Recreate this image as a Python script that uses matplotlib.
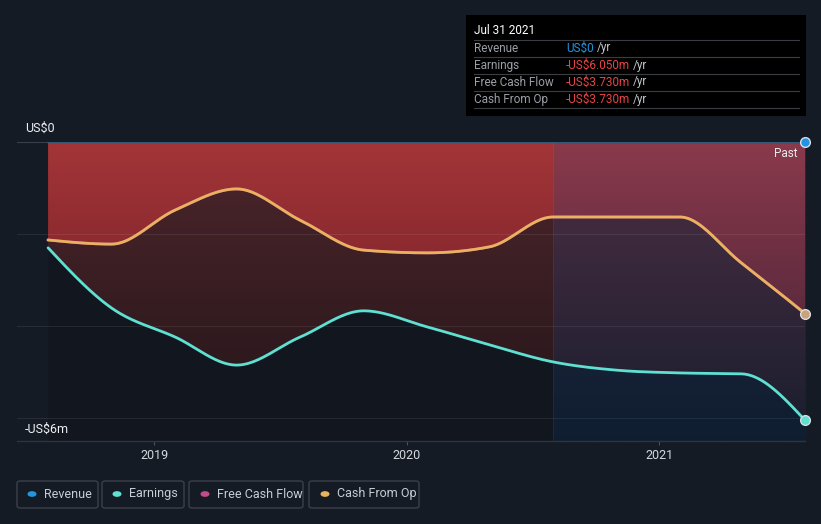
import numpy as np
import pandas as pd
import matplotlib
matplotlib.use("Agg")
import matplotlib.pyplot as plt
import matplotlib.dates as mdates
from matplotlib.patches import Rectangle, FancyBboxPatch, Circle
from matplotlib.lines import Line2D

plt.rcParams["font.family"] = ["Roboto", "DejaVu Sans"]

# quarterly figures, US$ millions
dates = ["2018-07-31", "2018-10-31", "2019-01-31", "2019-04-30", "2019-07-31",
         "2019-10-31", "2020-01-31", "2020-04-30", "2020-07-31", "2020-10-31",
         "2021-01-31", "2021-04-30", "2021-07-31"]
revenue = [0, 0, 0, 0, 0, 0, 0, 0, 0, 0, 0, 0, 0]
earnings = [-2.30, -3.61, -4.24, -4.85, -4.24, -3.67, -4.02, -4.41, -4.78,
            -4.96, -5.02, -5.04, -6.05]
free_cash_flow = [-2.13, -2.22, -1.48, -1.02, -1.70, -2.35, -2.41, -2.28, -1.63,
                  -1.63, -1.63, -2.63, -3.73]
cash_from_op = [-2.13, -2.22, -1.48, -1.02, -1.70, -2.35, -2.41, -2.28, -1.63,
                -1.63, -1.63, -2.63, -3.73]
past_start = "2020-07-31"
year_ticks = ["2019-01-01", "2020-01-01", "2021-01-01"]
year_labels = ["2019", "2020", "2021"]
y_labels = {0: "US$0", -6: "-US$6m"}

tip_title = "Jul 31 2021"
tip_rows = ["Revenue", "Earnings", "Free Cash Flow", "Cash From Op"]
tip_values = ["US$0", "-US$6.050m", "-US$3.730m", "-US$3.730m"]
legend_names = ["Revenue", "Earnings", "Free Cash Flow", "Cash From Op"]

BG = "#151b25"
C_REV = "#2394df"
C_EARN = "#5ee0d2"
C_FCF = "#c44b8a"
C_CFO = "#e9b25f"
RED = "#e64545"


def monotone(x, y, n=40):
    """d3 style monotone cubic, for drawing only"""
    x = np.asarray(x, float)
    y = np.asarray(y, float)
    h = np.diff(x)
    d = np.diff(y) / h
    m = np.zeros_like(y)
    s0, s1, h0, h1 = d[:-1], d[1:], h[:-1], h[1:]
    p = (s0 * h1 + s1 * h0) / (h0 + h1)
    m[1:-1] = (np.sign(s0) + np.sign(s1)) * np.minimum(np.minimum(abs(s0), abs(s1)), 0.5 * abs(p))
    m[0] = (3 * d[0] - m[1]) / 2
    m[-1] = (3 * d[-1] - m[-2]) / 2
    xs, ys = [], []
    for i in range(len(h)):
        t = np.linspace(0, 1, n, endpoint=(i == len(h) - 1))
        h00 = 2 * t**3 - 3 * t**2 + 1
        h10 = t**3 - 2 * t**2 + t
        h01 = -2 * t**3 + 3 * t**2
        h11 = t**3 - t**2
        xs.append(x[i] + t * h[i])
        ys.append(h00 * y[i] + h10 * h[i] * m[i] + h01 * y[i + 1] + h11 * h[i] * m[i + 1])
    return np.concatenate(xs), np.concatenate(ys)


def grad_fill(ax, x, lo, hi, top, bot, y_top, y_bot, z):
    poly = ax.fill_between(x, lo, hi, facecolor="none", edgecolor="none")
    top = np.array(top, float)
    bot = np.array(bot, float)
    t = np.linspace(0, 1, 256)[:, None]
    arr = (top[None, :] * (1 - t) + bot[None, :] * t)[:, None, :]
    im = ax.imshow(arr, extent=[x[0], x[-1], y_bot, y_top], aspect="auto",
                   origin="upper", zorder=z, interpolation="bilinear")
    im.set_clip_path(poly.get_paths()[0], transform=ax.transData)
    return im


W, H = 821, 524
fig = plt.figure(figsize=(W / 100, H / 100), dpi=100, facecolor=BG)
ax = fig.add_axes([17 / W, (H - 441) / H, (805 - 17) / W, (441 - 142) / H])
ax.set_facecolor(BG)

xd = mdates.date2num(pd.to_datetime(dates))
xp = mdates.date2num(pd.to_datetime(past_start))
sx, s_earn = monotone(xd, earnings)
_, s_fcf = monotone(xd, free_cash_flow)
_, s_cfo = monotone(xd, cash_from_op)
_, s_rev = monotone(xd, revenue)

ymin, ymax = -6.5, 0
# dark band under earnings
ax.fill_between(sx, ymin, s_earn, color="#12161e", lw=0, zorder=1)
# earnings area
grad_fill(ax, sx, s_earn, s_rev, (77/255, 38/255, 44/255, 1), (38/255, 22/255, 26/255, 1), 0, -6, 1.1)
# cash from op area
grad_fill(ax, sx, s_cfo, s_rev, (163/255, 53/255, 56/255, 1), (123/255, 35/255, 42/255, 1), 0, -4, 1.2)

# past year overlay
t = np.linspace(0, 1, 256)[:, None]
o_top = np.array([80/255, 70/255, 123/255, 0.30])
o_bot = np.array([10/255, 42/255, 75/255, 0.42])
overlay = (o_top[None, :] * (1 - t) + o_bot[None, :] * t)[:, None, :]
ax.imshow(overlay, extent=[xp, xd[-1], ymin, ymax], aspect="auto", origin="upper",
          zorder=1.5, interpolation="bilinear")
ax.axvline(xp, color=(1, 1, 1, 0.05), lw=0.8, zorder=1.6)

for g in [-2, -4, -6]:
    ax.axhline(g, color=(1, 1, 1, 0.08), lw=0.8, zorder=1.7)
ax.axhline(0, color="#3a3f4a", lw=0.8, zorder=1.7)

ax.plot(sx, s_rev, color=C_REV, alpha=0.3, lw=1.5, zorder=3)
ax.plot(sx, s_fcf, color=C_FCF, lw=2, zorder=3)
ax.plot(sx, s_cfo, color=C_CFO, lw=2, zorder=3.1, solid_capstyle="round")
ax.plot(sx, s_earn, color=C_EARN, lw=2, zorder=3.2, solid_capstyle="round")

for val, col in [(revenue[-1], C_REV), (cash_from_op[-1], "#c9a275"), (earnings[-1], C_EARN)]:
    ax.plot(xd[-1], val, "o", ms=7, mfc=col, mec="#d8dde6", mew=1, zorder=4, clip_on=False)

ax.set_xlim(mdates.date2num(pd.Timestamp("2018-06-16")), xd[-1])
ax.set_ylim(ymin, ymax)

ax.set_xticks(mdates.date2num(pd.to_datetime(year_ticks)))
ax.set_xticklabels(year_labels)
ax.tick_params(axis="x", colors="#4a505c", labelcolor="#d6d9de", labelsize=9,
               length=3, width=0.8, pad=3, direction="out")
ax.set_yticks([])
for s in ["top", "left", "right"]:
    ax.spines[s].set_visible(False)
ax.spines["bottom"].set_color("#2e333d")
ax.spines["bottom"].set_linewidth(1)

trans = ax.get_yaxis_transform()
ax.text(8 / 788, 0.3, y_labels[0], transform=trans, color="#eef0f3", fontsize=9,
        va="center", ha="left", clip_on=False)
ax.text(8 / 788, -6.24, y_labels[-6], transform=trans, color="#eef0f3", fontsize=9,
        va="center", ha="left")
ax.text((797 - 17) / 788, -0.24, "Past", color="#e8eaee", transform=trans,
        fontsize=8.5, ha="right", va="center", zorder=5)


def fx(x):
    return x / W


def fy(y):
    return 1 - y / H


# tooltip box
fig.patches.append(Rectangle((fx(466), fy(116)), (806 - 466) / W, (116 - 15) / H,
                             transform=fig.transFigure, facecolor="#000000",
                             edgecolor="none", zorder=5))
fig.text(fx(474), fy(31), tip_title, color="#ffffff", fontsize=8.5, va="center", zorder=6)
for yline in [40, 57, 74, 91, 108]:
    fig.lines.append(Line2D([fx(474), fx(799)], [fy(yline), fy(yline)],
                            transform=fig.transFigure, color="#3a3d42", lw=0.8, zorder=6))
val_colors = [C_REV, RED, RED, RED]
val_texts = []
for k, (lab, v) in enumerate(zip(tip_rows, tip_values)):
    yy = fy(48 + 17 * k)
    fig.text(fx(474), yy, lab, color="#9a9ea6", fontsize=8.5, va="center", zorder=6)
    val_texts.append(fig.text(fx(566), yy, v, color=val_colors[k], fontsize=8.5,
                              va="center", zorder=6))
fig.canvas.draw()
rend = fig.canvas.get_renderer()
for k, tt in enumerate(val_texts):
    bb = tt.get_window_extent(rend)
    fig.text((bb.x1 + 3) / W, fy(48 + 17 * k), "/yr", color="#c4c7cc", fontsize=8.5,
             va="center", zorder=6)

# legend
boxes = [(17, 98), (102, 184), (189, 303), (309, 419)]
dot_x = [32, 117, 205, 325]
leg_colors = [C_REV, C_EARN, C_FCF, C_CFO]
for (x0, x1), dx, col, name in zip(boxes, dot_x, leg_colors, legend_names):
    fig.patches.append(FancyBboxPatch((fx(x0), fy(508)), (x1 - x0) / W, 27 / H,
                                      boxstyle="round,pad=0,rounding_size=0.004",
                                      transform=fig.transFigure, facecolor="none",
                                      edgecolor="#3b404b", lw=1))
    fig.patches.append(Circle((fx(dx), fy(494)), 4.5 / W, transform=fig.transFigure,
                              facecolor=col, edgecolor="none"))
    fig.text(fx(dx + 12), fy(494), name, color="#c8ccd3", fontsize=9, va="center")

fig.savefig("out.png", dpi=100, facecolor=BG)
